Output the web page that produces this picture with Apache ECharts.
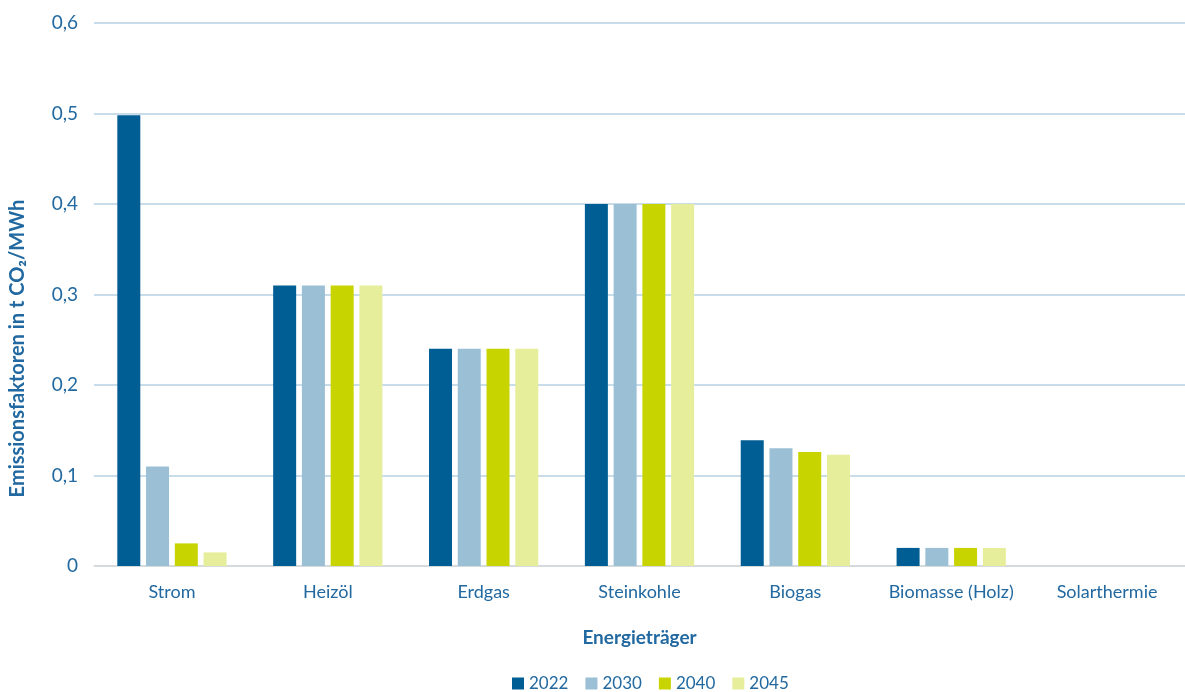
<!DOCTYPE html>
<html>
<head>
<meta charset="utf-8">
<script src="https://cdn.jsdelivr.net/npm/echarts@6/dist/echarts.min.js"></script>
<style>
  html, body { margin: 0; padding: 0; background: #fff; }
  #chart { width: 1185px; height: 692px; }
</style>
</head>
<body>
<div id="chart"></div>
<script>
var categories = ['Strom', 'Heizöl', 'Erdgas', 'Steinkohle', 'Biogas', 'Biomasse (Holz)', 'Solarthermie'];
var years = ['2022', '2030', '2040', '2045'];
var values2022 = [0.498, 0.31, 0.24, 0.40, 0.139, 0.02, 0];
var values2030 = [0.11, 0.31, 0.24, 0.40, 0.130, 0.02, 0];
var values2040 = [0.025, 0.31, 0.24, 0.40, 0.126, 0.02, 0];
var values2045 = [0.015, 0.31, 0.24, 0.40, 0.123, 0.02, 0];
var colors = ['#005e94', '#9bbfd5', '#c8d400', '#e7ee9b'];
var textColor = '#2169a0';
var font = 'Lato, "Open Sans", sans-serif';

var chart = echarts.init(document.getElementById('chart'));
var allValues = [values2022, values2030, values2040, values2045];
var series = years.map(function (y, i) {
    return {
        name: y,
        type: 'bar',
        data: allValues[i],
        barWidth: 23,
        barGap: '25%',
        itemStyle: { color: colors[i] }
    };
});

chart.setOption({
    animation: false,
    color: colors,
    textStyle: { fontFamily: font },
    grid: { left: 94, width: 1098, top: 23, bottom: 126, containLabel: false },
    legend: {
        data: years,
        top: 670,
        left: 507,
        itemWidth: 12,
        itemHeight: 12,
        itemGap: 17,
        icon: 'rect',
        textStyle: { color: textColor, fontSize: 17, fontFamily: font }
    },
    xAxis: {
        type: 'category',
        data: categories,
        name: 'Energieträger',
        nameLocation: 'middle',
        nameGap: 62,
        nameTextStyle: { color: textColor, fontSize: 19, fontWeight: 'bold', fontFamily: font },
        axisLine: { lineStyle: { color: '#d9d9d9', width: 1.5 } },
        axisTick: { show: false },
        axisLabel: { color: textColor, fontSize: 18, margin: 17, fontFamily: font, interval: 0 }
    },
    yAxis: {
        type: 'value',
        min: 0,
        max: 0.6,
        interval: 0.1,
        name: 'Emissionsfaktoren in t CO₂/MWh',
        nameLocation: 'middle',
        nameGap: 66,
        nameTextStyle: { color: textColor, fontSize: 20, fontWeight: 'bold', fontFamily: font, padding: [0, 108, 0, 0] },
        axisLine: { show: false },
        axisTick: { show: false },
        axisLabel: {
            color: textColor,
            fontSize: 19,
            margin: 16,
            fontFamily: font,
            formatter: function (v) {
                return v === 0 ? '0' : v.toFixed(1).replace('.', ',');
            }
        },
        splitLine: { lineStyle: { color: '#b6d0e2', width: 1.5 } }
    },
    series: series
});
</script>
</body>
</html>
